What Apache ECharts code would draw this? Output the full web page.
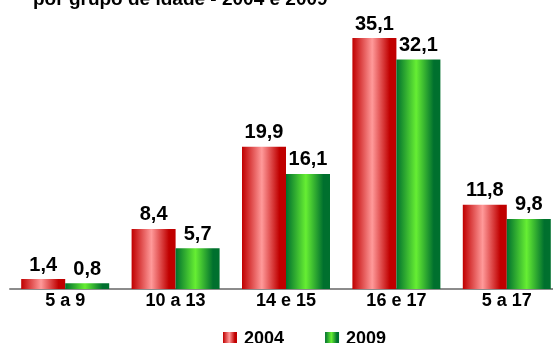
<!DOCTYPE html>
<html>
<head>
<meta charset="utf-8">
<script src="https://cdn.jsdelivr.net/npm/echarts@6/dist/echarts.min.js"></script>
<style>html,body{margin:0;padding:0;background:#fff;}#c{width:553px;height:343px;}</style>
</head>
<body>
<div id="c"></div>
<script>
const categories = ['5 a 9', '10 a 13', '14 e 15', '16 e 17', '5 a 17'];
const values2004 = [1.4, 8.4, 19.9, 35.1, 11.8];
const values2009 = [0.8, 5.7, 16.1, 32.1, 9.8];
const seriesNames = ['2004', '2009'];
const titleText = 'por grupo de idade - 2004 e 2009';

const FONT = '"Liberation Sans", Arial, sans-serif';
function grad(edge, mid, edge2) {
  return {
    type: 'linear', x: 0, y: 0, x2: 1, y2: 0,
    colorStops: [
      { offset: 0, color: edge },
      { offset: 0.45, color: mid },
      { offset: 0.85, color: edge2 },
      { offset: 1, color: edge2 }
    ]
  };
}
const redGrad = grad('#c00000', '#ff9a9a', '#c00000');
const greenGrad = grad('#00702e', '#66ee33', '#00702e');

const labelFmt = p => String(p.value).replace('.', ',');
const lbl = {
  show: true, position: 'top', distance: 4,
  formatter: labelFmt,
  color: '#000', fontWeight: 'bold', fontSize: 20, fontFamily: FONT
};

const chart = echarts.init(document.getElementById('c'), null, { renderer: 'canvas' });
chart.setOption({
  animation: false,
  backgroundColor: '#fff',
  title: {
    text: titleText, left: 28, top: -15,
    textStyle: { fontSize: 19, fontWeight: 'bold', fontFamily: FONT, color: '#000' }
  },
  legend: {
    data: seriesNames, left: 218, top: 325,
    icon: 'rect', itemWidth: 14, itemHeight: 14, itemGap: 41,
    textStyle: { fontSize: 18, fontWeight: 'bold', fontFamily: FONT, color: '#000', padding: [0, 0, 0, 2] }
  },
  grid: { left: 10, right: -9, top: 3, bottom: 54, containLabel: false, outerBoundsMode: 'none' },
  xAxis: {
    type: 'category', data: categories,
    axisTick: { show: false },
    axisLine: { lineStyle: { color: '#8c8c8c', width: 2 } },
    axisLabel: { margin: 3, color: '#000', fontSize: 18, fontWeight: 'bold', fontFamily: FONT }
  },
  yAxis: { type: 'value', min: 0, max: 40, show: false, splitLine: { show: false } },
  series: [
    { name: seriesNames[0], type: 'bar', data: values2004, barWidth: 44, barGap: '0%',
      itemStyle: { color: redGrad }, label: lbl },
    { name: seriesNames[1], type: 'bar', data: values2009, barWidth: 44, barGap: '0%',
      itemStyle: { color: greenGrad }, label: lbl }
  ]
});
</script>
</body>
</html>
